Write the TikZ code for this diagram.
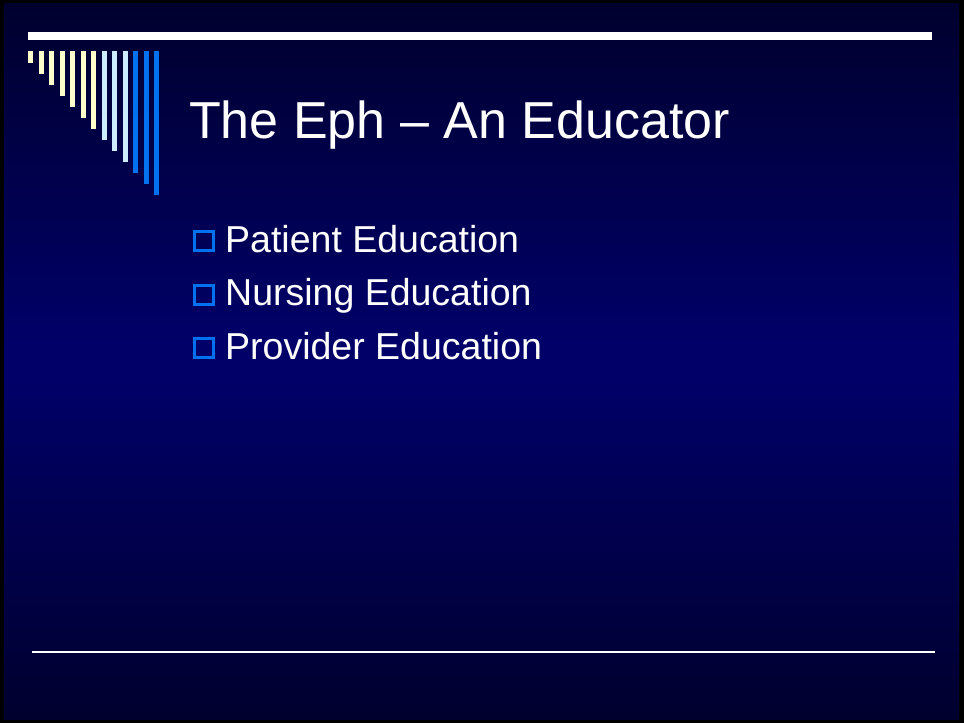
\documentclass[tikz,border=0pt]{standalone}
\usepackage{fontspec}
\setmainfont{Liberation Sans}
\usepackage{tikz}
\usetikzlibrary{positioning}
\definecolor{paleyellow}{HTML}{FFFFCC}
\definecolor{paleblue}{HTML}{CCECFF}
\definecolor{brightblue}{HTML}{0072F0}
\definecolor{navytop}{HTML}{00002E}
\definecolor{navymid}{HTML}{000068}
\tikzset{bar/.style = {inner sep = 0, minimum width = 5, anchor = north west}}
\tikzset{tick/.style = {draw = brightblue, line width = 3, inner sep = 0, minimum size = 19}}
\tikzset{itemtext/.style = {text = white, inner sep = 0, anchor = base west,
                            font = \fontsize{37.5}{45}\selectfont}}

\begin{document}
\begin{tikzpicture}[x=1pt, y=-1pt]
    \useasboundingbox (0, 0) rectangle (964, 723);
    \fill [black] (0, 0) rectangle (964, 723);
    % background, brightest about the middle
    \shade [top color = navytop, bottom color = navymid]
      (4pt, -3pt) rectangle (959pt, -340pt);
    \fill [navymid] (4pt, -339pt) rectangle (959pt, -381pt);
    \shade [top color = navymid, bottom color = navytop]
      (4pt, -380pt) rectangle (959pt, -719pt);

    % rules
    \fill [white] (28, 32) rectangle (932, 40);
    \draw [white, line width = 2] (32, 652) -- (935, 652);

    % the comb of bars
    \foreach \i/\c in {0/paleyellow, 1/paleyellow, 2/paleyellow, 3/paleyellow,
                       4/paleyellow, 5/paleyellow, 6/paleyellow, 7/paleblue,
                       8/paleblue, 9/paleblue, 10/brightblue, 11/brightblue, 12/brightblue}
      \node [bar, fill = \c, minimum height = 12 + 11*\i] (bar\i) at (28 + 10.5*\i, 51) {};

    \node [text = white, inner sep = 0, anchor = base west,
           font = \fontsize{52}{60}\selectfont] (title) at (189, 138) {The Eph -- An Educator};

    \node [tick] (tickA) at (203.5, 241) {};
    \node [itemtext] (patient) at (225, 252) {Patient Education};
    \node [tick] (tickB) at (203.5, 294.5) {};
    \node [itemtext] (nursing) at (225, 305.5) {Nursing Education};
    \node [tick] (tickC) at (203.5, 348) {};
    \node [itemtext] (provider) at (225, 359) {Provider Education};
  \end{tikzpicture}
\end{document}
